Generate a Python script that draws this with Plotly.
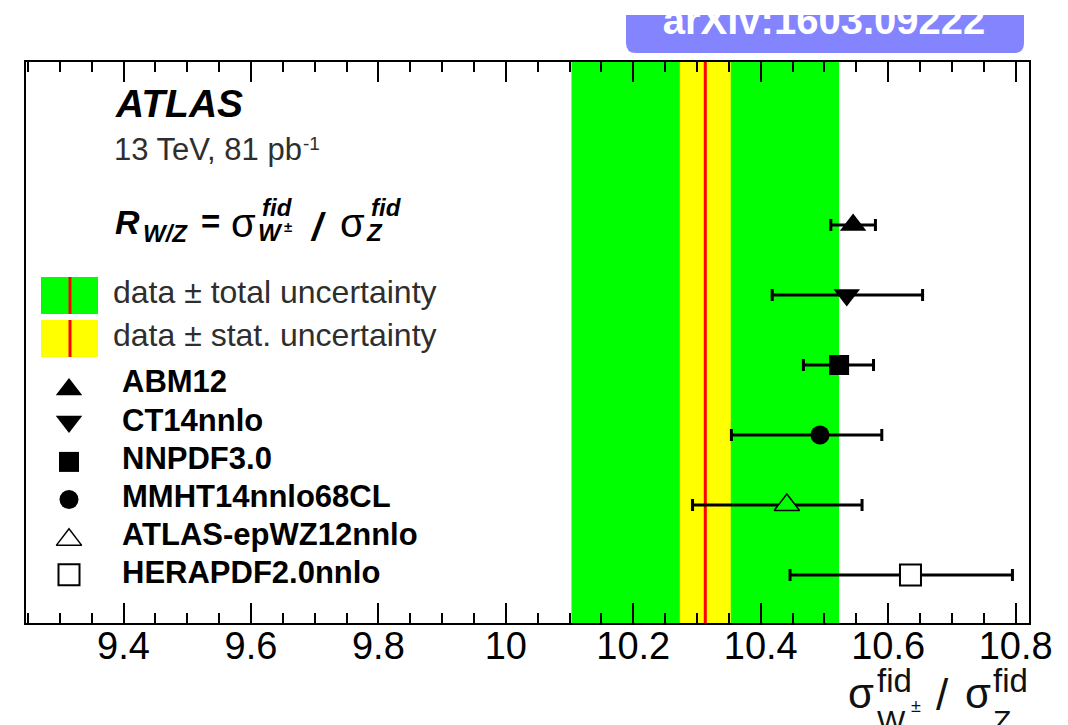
import plotly.graph_objects as go

# ---------------- data ----------------
pdf_names = ["ABM12", "CT14nnlo", "NNPDF3.0", "MMHT14nnlo68CL", "ATLAS-epWZ12nnlo", "HERAPDF2.0nnlo"]
pred_values = [10.545, 10.535, 10.523, 10.493, 10.441, 10.635]
pred_err_low = [0.035, 0.117, 0.056, 0.139, 0.148, 0.189]
pred_err_high = [0.035, 0.119, 0.054, 0.097, 0.118, 0.160]
row_positions = [6, 5, 4, 3, 2, 1]

data_value = 10.313
data_stat = 0.040
data_total = 0.210

tick_values = [9.4, 9.6, 9.8, 10.0, 10.2, 10.4, 10.6, 10.8]
tick_labels = ["9.4", "9.6", "9.8", "10", "10.2", "10.4", "10.6", "10.8"]

# ---------------- styles ----------------
W, H = 1068, 725
FONT = "Liberation Sans"
GREEN = "#00ff00"
YELLOW = "#ffff00"
TXT = "#2e2e2e"

symbols = ["triangle-up", "triangle-down", "square", "circle", "triangle-up", "square"]
fills = ["black", "black", "black", "black", GREEN, "white"]
legend_fills = ["black", "black", "black", "black", "white", "white"]
msizes = [23, 23, 20, 19, 22, 21]
mlines = [0, 0, 0, 0, 1.5, 2]

fig = go.Figure()

# main data points with error bars
fig.add_trace(go.Scatter(
    x=pred_values, y=row_positions, mode="markers",
    marker=dict(symbol=symbols, color=fills, size=msizes, opacity=1,
                line=dict(color="black", width=mlines)),
    error_x=dict(type="data", symmetric=False, array=pred_err_high,
                 arrayminus=pred_err_low, color="black", thickness=3, width=6),
    xaxis="x", yaxis="y", showlegend=False, hoverinfo="skip"))

# ---------------- legend (pixel overlay axes) ----------------
leg_x = 69
leg_y0, leg_dy = 386.7, 37.6
leg_marker_y = []
for i, s in enumerate(symbols):
    off = 0.0
    if s == "triangle-up":
        off = msizes[i] / 8.0
    elif s == "triangle-down":
        off = -msizes[i] / 8.0
    leg_marker_y.append(leg_y0 + i * leg_dy + off)
fig.add_trace(go.Scatter(
    x=[leg_x] * len(pdf_names), y=leg_marker_y, mode="markers",
    marker=dict(symbol=symbols, color=legend_fills, size=msizes, opacity=1,
                line=dict(color="black", width=mlines)),
    xaxis="x2", yaxis="y2", showlegend=False, hoverinfo="skip"))

# banner text (clipped at the top by a white cover shape)
fig.add_trace(go.Scatter(
    x=[824], y=[24], mode="text", text=["arXiv:1603.09222"],
    textposition="middle center",
    textfont=dict(family=FONT, size=40, color="white", weight="bold"),
    xaxis="x2", yaxis="y2", showlegend=False, hoverinfo="skip", cliponaxis=False))

shapes = []
# data bands
shapes.append(dict(type="rect", xref="x", yref="y domain",
                   x0=data_value - data_total, x1=data_value + data_total, y0=0, y1=1,
                   fillcolor=GREEN, line=dict(width=0), layer="below"))
shapes.append(dict(type="rect", xref="x", yref="y domain",
                   x0=data_value - data_stat, x1=data_value + data_stat, y0=0, y1=1,
                   fillcolor=YELLOW, line=dict(width=0), layer="below"))
shapes.append(dict(type="line", xref="x", yref="y domain",
                   x0=data_value, x1=data_value, y0=0, y1=1,
                   line=dict(color="red", width=3), layer="below"))
# legend boxes
for (y0, y1, col) in [(277, 314, GREEN), (320, 357, YELLOW)]:
    shapes.append(dict(type="rect", xref="x2", yref="y2", x0=41, x1=98, y0=y0, y1=y1,
                       fillcolor=col, line=dict(width=0), layer="below"))
    shapes.append(dict(type="line", xref="x2", yref="y2", x0=70, x1=70, y0=y0, y1=y1,
                       line=dict(color="red", width=3), layer="below"))
# banner
shapes.append(dict(type="path", xref="x2", yref="y2",
                   path="M 626,10 L 1024,10 L 1024,43 Q 1024,53 1014,53 L 636,53 Q 626,53 626,43 Z",
                   fillcolor="#8484ff", line=dict(width=0), layer="below"))
shapes.append(dict(type="rect", xref="x2", yref="y2", x0=600, x1=1068, y0=-20, y1=15,
                   fillcolor="white", line=dict(width=0), layer="above"))

annotations = []


def txt(x, base, text, size, bold=False, italic=False, color="black"):
    f = dict(family=FONT, size=size, color=color)
    if bold:
        f["weight"] = "bold"
    if italic:
        f["style"] = "italic"
    annotations.append(dict(x=x, y=base - 0.3465 * size, xref="x2", yref="y2",
                            text=text, showarrow=False, xanchor="left", yanchor="middle",
                            font=f, borderpad=0))


# ATLAS label block
txt(114, 116.7, "ATLAS", 39, bold=True, italic=True)
txt(113, 160, "13 TeV, 81 pb", 31, color=TXT)
txt(302, 150, "-1", 19, color=TXT)
# R_{W/Z} formula
txt(114, 233.3, "R", 34, bold=True, italic=True)
txt(142, 242, "W/Z", 24, bold=True, italic=True)
txt(200, 233.3, "=", 33, bold=True)
txt(230, 237, "σ", 40)
txt(261, 216, "fid", 24, bold=True, italic=True)
txt(257, 241, "W", 24, bold=True, italic=True)
txt(283, 232, "±", 15, bold=True)
txt(309, 240, "/", 38, bold=True, italic=True)
txt(339, 237, "σ", 40)
txt(370, 216, "fid", 24, bold=True, italic=True)
txt(365, 241, "Z", 24, bold=True, italic=True)

# legend text
txt(112, 303.3, "data ± total uncertainty", 32, color=TXT)
txt(112, 346, "data ± stat. uncertainty", 32, color=TXT)
for i, name in enumerate(pdf_names):
    txt(121, 392.7 + i * 38.2, name, 31, bold=True)

# x-axis title (bottom right, partly cut off)
txt(847, 708, "σ", 42, color="#111")
txt(876, 692, "fid", 33, color="#111")
txt(876, 731, "W", 30, color="#111")
txt(910, 712, "±", 18, color="#111")
txt(935, 710, "/", 44, color="#111")
txt(964, 708, "σ", 42, color="#111")
txt(992, 692, "fid", 33, color="#111")
txt(992, 731, "Z", 30, color="#111")

fig.update_layout(
    width=W, height=H, autosize=False,
    margin=dict(l=0, r=0, t=0, b=0, pad=0, autoexpand=False),
    paper_bgcolor="white", plot_bgcolor="rgba(0,0,0,0)",
    showlegend=False,
    shapes=shapes, annotations=annotations,
    xaxis=dict(domain=[26 / W, 1029 / W], range=[9.247, 10.821], anchor="y",
               automargin=False,
               tickmode="array", tickvals=tick_values, ticktext=tick_labels,
               ticks="inside", ticklen=20, tickwidth=2, tickcolor="black",
               ticklabelstandoff=-12,
               minor=dict(tickmode="linear", tick0=9.3, dtick=0.05, ticks="inside",
                          ticklen=10, tickwidth=1.5, tickcolor="black"),
               showline=True, linewidth=2, linecolor="black", mirror="ticks",
               showgrid=False, zeroline=False,
               tickfont=dict(family=FONT, size=38, color="black")),
    yaxis=dict(domain=[1 - 623 / H, 1 - 62 / H], range=[0.314, 8.329], anchor="x",
               automargin=False,
               showticklabels=False, ticks="", showline=True, linewidth=2,
               linecolor="black", mirror=True, showgrid=False, zeroline=False),
    xaxis2=dict(domain=[0, 1], range=[0, W], anchor="y2", visible=False, automargin=False),
    yaxis2=dict(domain=[0, 1], range=[H, 0], anchor="x2", visible=False, automargin=False),
)

fig.write_html(
    "out.html",
    config={"responsive": False, "displayModeBar": False},
    post_script="document.body.style.margin='0';document.body.style.overflow='hidden';",
)
